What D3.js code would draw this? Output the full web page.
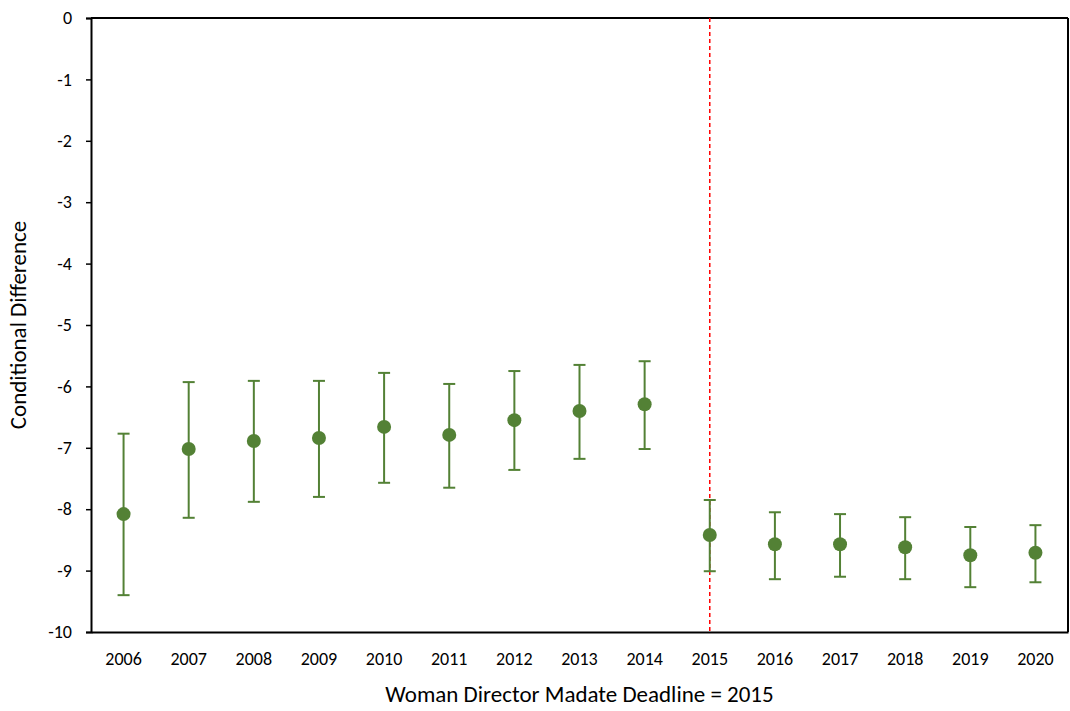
<!DOCTYPE html>
<html><head><meta charset="utf-8">
<script src="https://cdn.jsdelivr.net/npm/d3@7"></script>
<style>body{margin:0;background:#fff}text{font-family:Calibri,Carlito,Lato,sans-serif}</style>
</head><body>
<script>
var years = ["2006","2007","2008","2009","2010","2011","2012","2013","2014","2015","2016","2017","2018","2019","2020"];
var estimates = [-8.08,-7.02,-6.89,-6.84,-6.66,-6.79,-6.55,-6.40,-6.29,-8.42,-8.57,-8.57,-8.62,-8.75,-8.71];
var upper = [-6.77,-5.93,-5.91,-5.91,-5.78,-5.96,-5.75,-5.65,-5.59,-7.85,-8.05,-8.08,-8.13,-8.29,-8.26];
var lower = [-9.40,-8.14,-7.88,-7.80,-7.57,-7.65,-7.36,-7.18,-7.02,-9.01,-9.14,-9.10,-9.14,-9.27,-9.19];
var yTicks = [0,-1,-2,-3,-4,-5,-6,-7,-8,-9,-10];
var deadline = "2015";

var svg = d3.select("body").append("svg").attr("width",1070).attr("height",711);
var L=91,R=1068,T=18,B=632;
var x = d3.scaleBand().domain(years).range([L,R]);
var y = d3.scaleLinear().domain([-10,0]).range([B,T]);
var green = "#538135";

svg.append("g").attr("transform","translate("+L+",0)")
	.call(d3.axisLeft(y).tickValues(yTicks).tickSize(5).tickPadding(14).tickFormat(function(d){return String(d);}))
	.call(function(g){g.select(".domain").attr("stroke-width",2);g.selectAll("line").attr("stroke-width",1.5);g.selectAll("text").attr("font-size",18).attr("fill","#000");});
svg.append("g").attr("transform","translate(0,"+B+")")
	.call(d3.axisBottom(x).tickSize(0).tickPadding(20))
	.call(function(g){g.select(".domain").attr("stroke-width",2);g.selectAll("text").attr("font-size",18).attr("fill","#000");});
svg.append("line").attr("x1",L).attr("x2",R).attr("y1",T).attr("y2",T).attr("stroke","#000").attr("stroke-width",2);
svg.append("line").attr("x1",R).attr("x2",R).attr("y1",T).attr("y2",B).attr("stroke","#000").attr("stroke-width",2);

var cx = function(i){return x(years[i])+x.bandwidth()/2;};
svg.append("line").attr("x1",cx(years.indexOf(deadline))).attr("x2",cx(years.indexOf(deadline)))
	.attr("y1",T).attr("y2",B).attr("stroke","#ff0000").attr("stroke-width",1.5).attr("stroke-dasharray","4,3");

var g = svg.append("g");
years.forEach(function(d,i){
	var c = cx(i);
	g.append("line").attr("x1",c).attr("x2",c).attr("y1",y(upper[i])).attr("y2",y(lower[i])).attr("stroke",green).attr("stroke-width",2);
	[upper[i],lower[i]].forEach(function(v){
		g.append("line").attr("x1",c-6).attr("x2",c+6).attr("y1",y(v)).attr("y2",y(v)).attr("stroke",green).attr("stroke-width",2);
	});
	g.append("circle").attr("cx",c).attr("cy",y(estimates[i])).attr("r",7).attr("fill",green);
});

svg.append("text").attr("x",(L+R)/2).attr("y",702).attr("text-anchor","middle").attr("font-size",23).text("Woman Director Madate Deadline = 2015");
svg.append("text").attr("transform","translate(26,"+(T+B)/2+") rotate(-90)").attr("text-anchor","middle").attr("font-size",23).text("Conditional Difference");
</script>
</body></html>
